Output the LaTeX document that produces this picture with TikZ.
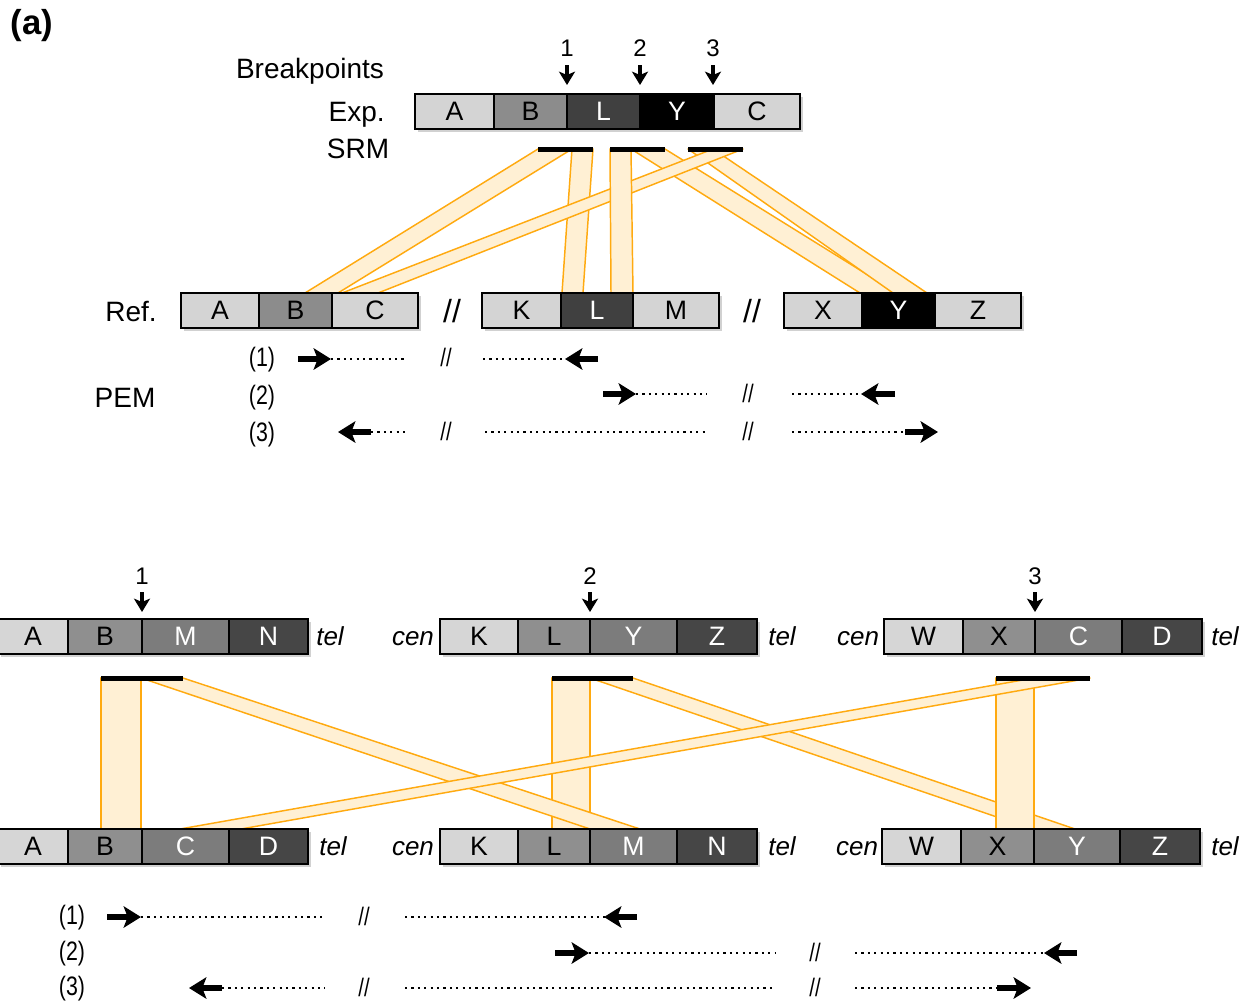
\documentclass[tikz,border=0pt]{standalone}
\usepackage{fontspec}
\setmainfont{Liberation Sans}
\usepackage{graphicx}
\usetikzlibrary{arrows.meta}
\definecolor{tL}{HTML}{D4D4D4}
\definecolor{tM}{HTML}{8C8C8C}
\definecolor{tD}{HTML}{404040}
\definecolor{bL}{HTML}{D6D6D6}
\definecolor{bM}{HTML}{8F8F8F}
\definecolor{bN}{HTML}{7C7C7C}
\definecolor{bD}{HTML}{464646}
\definecolor{bandfill}{HTML}{FFF0D4}
\definecolor{bandline}{HTML}{FFAA10}
\tikzset{
  segbox/.style={draw=black, line width=1.1pt, minimum height=26.25pt, inner sep=0pt, font=\fontsize{20}{20}\selectfont},
  shade/.style={fill=black, opacity=0.18},
  band/.style={fill=bandfill, draw=bandline, line width=1.1pt, line join=round},
  srm/.style={line width=3.75pt},
  bparr/.style={line width=2.6pt, -{Stealth[length=10pt,width=12pt,inset=2.5pt]}},
  pemarr/.style={line width=3.8pt, -{Stealth[length=13pt,width=16pt,inset=3pt]}},
  dots/.style={line width=1.6pt, dash pattern=on 1.6pt off 3.2pt},
  lab/.style={font=\fontsize{21}{21}\selectfont, inner sep=0pt, anchor=base},
  num/.style={font=\fontsize{18}{18}\selectfont, inner sep=0pt, anchor=base},
  ital/.style={font=\fontsize{19.5}{19.5}\selectfont\itshape, inner sep=0pt, anchor=base},
  pemlab/.style={font=\fontsize{20}{20}\selectfont, inner sep=0pt, anchor=base},
  slash/.style={font=\fontsize{19}{19}\selectfont, inner sep=0pt, anchor=base},
}
\newcommand\seg[7]{%
  \pgfmathsetmacro\segw{(#3-#2)*0.75}%
  \pgfmathsetmacro\segc{(#2+#3)/2}%
  \node[segbox, fill=#5, text=#6, minimum width=\segw pt] (#1) at (\segc,#4) {#7};}
\newcommand\shadebar[3]{\fill[shade] (#1+3,#3-17.5+3) rectangle (#2+3,#3+17.5+3);}
\newcommand\bandpoly[6]{\draw[band] (#1,#3) -- (#2,#3) -- (#5,#6) -- (#4,#6) -- cycle;}
\newcommand\nar[1]{\scalebox{0.8}[1]{#1}}
\begin{document}
\begin{tikzpicture}[x=0.75pt,y=-0.75pt]
\useasboundingbox (0,0) rectangle (1254,1004);

% ---------- panel label ----------
\node[font=\fontsize{26}{26}\selectfont\bfseries, inner sep=0pt, anchor=base] (panel) at (32,34) {(a)};

% ---------- top: bands ----------
\bandpoly{631}{665}{149}{860}{897}{293}
\bandpoly{688}{713}{149}{893}{927}{293}
\bandpoly{538}{572}{149}{305}{338}{293}
\bandpoly{572}{593}{149}{562}{583}{293}
\bandpoly{713}{743}{149}{342}{378}{293}
\bandpoly{610}{631}{149}{611}{633}{293}

% ---------- top: labels ----------
\node[lab] (bp) at (310,78) {Breakpoints};
\node[lab, anchor=base east] (exp) at (385,121) {Exp.};
\node[lab] (srmlab) at (358,158) {SRM};
\node[lab] (ref) at (131,321) {Ref.};
\node[lab] (pem) at (125,407) {PEM};

% ---------- top: Exp. bar ----------
\shadebar{415}{800}{111.5}
\seg{eA}{415}{494}{111.5}{tL}{black}{A}
\seg{eB}{494}{567}{111.5}{tM}{black}{B}
\seg{eL}{567}{640}{111.5}{tD}{white}{L}
\seg{eY}{640}{714}{111.5}{black}{white}{Y}
\seg{eC}{714}{800}{111.5}{tL}{black}{C}

% breakpoints
\node[num] (n1) at (567,56) {1};
\node[num] (n2) at (640,56) {2};
\node[num] (n3) at (713,56) {3};
\coordinate (f1) at (567,65); \coordinate (f2) at (640,65); \coordinate (f3) at (713,65);
\coordinate (t1) at (567,85); \coordinate (t2) at (640,85); \coordinate (t3) at (713,85);
\draw[bparr] (f1) -- (t1);
\draw[bparr] (f2) -- (t2);
\draw[bparr] (f3) -- (t3);

% SRM bars
\coordinate (s1a) at (538,149); \coordinate (s1b) at (593,149);
\coordinate (s2a) at (610,149); \coordinate (s2b) at (665,149);
\coordinate (s3a) at (688,149); \coordinate (s3b) at (743,149);
\draw[srm] (s1a) -- (s1b);
\draw[srm] (s2a) -- (s2b);
\draw[srm] (s3a) -- (s3b);

% ---------- top: Ref bars ----------
\shadebar{181}{418}{310.5}
\shadebar{482}{719}{310.5}
\shadebar{784}{1021}{310.5}
\seg{rA}{181}{259}{310.5}{tL}{black}{A}
\seg{rB}{259}{332}{310.5}{tM}{black}{B}
\seg{rC}{332}{418}{310.5}{tL}{black}{C}
\seg{rK}{482}{561}{310.5}{tL}{black}{K}
\seg{rL}{561}{633}{310.5}{tD}{white}{L}
\seg{rM}{633}{719}{310.5}{tL}{black}{M}
\seg{rX}{784}{862}{310.5}{tL}{black}{X}
\seg{rY}{862}{935}{310.5}{black}{white}{Y}
\seg{rZ}{935}{1021}{310.5}{tL}{black}{Z}
\node[font=\fontsize{24}{24}\selectfont, inner sep=0pt, anchor=base] (brk1) at (452,322) {//};
\node[font=\fontsize{24}{24}\selectfont, inner sep=0pt, anchor=base] (brk2) at (752,322) {//};

% ---------- top: PEM ----------
\node[pemlab] (p1) at (262,366) {\nar{(1)}};
\node[pemlab] (p2) at (262,404) {\nar{(2)}};
\node[pemlab] (p3) at (262,441) {\nar{(3)}};
% row 1
\draw[pemarr] (298,359) -- (331,359);
\draw[dots] (331,359) -- (405,359);
\node[slash] (q11) at (446,366) {\nar{//}};
\draw[dots] (483,359) -- (566,359);
\draw[pemarr] (598,359) -- (565,359);
% row 2
\draw[pemarr] (603,394) -- (636,394);
\draw[dots] (636,394) -- (707,394);
\node[slash] (q21) at (748,402) {\nar{//}};
\draw[dots] (792,394) -- (862,394);
\draw[pemarr] (895,394) -- (861,394);
% row 3
\draw[pemarr] (371,432) -- (338,432);
\draw[dots] (371,432) -- (405,432);
\node[slash] (q31) at (446,440) {\nar{//}};
\draw[dots] (485,432) -- (707,432);
\node[slash] (q32) at (748,440) {\nar{//}};
\draw[dots] (792,432) -- (906,432);
\draw[pemarr] (905,432) -- (938,432);

% ---------- bottom: bands ----------
\bandpoly{101}{141}{678}{101}{141}{829}
\bandpoly{552}{590}{678}{552}{590}{829}
\bandpoly{590}{633}{678}{1032}{1075}{829}
\bandpoly{996}{1034}{678}{996}{1034}{829}
\bandpoly{141}{183}{678}{590}{640}{829}
\bandpoly{1034}{1090}{678}{180}{241}{829}

% SRM bars bottom
\coordinate (u1a) at (101,678); \coordinate (u1b) at (183,678);
\coordinate (u2a) at (552,678); \coordinate (u2b) at (633,678);
\coordinate (u3a) at (996,678); \coordinate (u3b) at (1090,678);
\draw[srm] (u1a) -- (u1b);
\draw[srm] (u2a) -- (u2b);
\draw[srm] (u3a) -- (u3b);

% ---------- bottom: upper row ----------
\shadebar{-2}{308}{636.5}
\shadebar{440}{757}{636.5}
\shadebar{884}{1202}{636.5}
\seg{aA}{-2}{68}{636.5}{bL}{black}{A}
\seg{aB}{68}{142}{636.5}{bM}{black}{B}
\seg{aM}{142}{229}{636.5}{bN}{white}{M}
\seg{aN}{229}{308}{636.5}{bD}{white}{N}
\seg{aK}{440}{518}{636.5}{bL}{black}{K}
\seg{aL}{518}{590}{636.5}{bM}{black}{L}
\seg{aY}{590}{677}{636.5}{bN}{white}{Y}
\seg{aZ}{677}{757}{636.5}{bD}{white}{Z}
\seg{aW}{884}{963}{636.5}{bL}{black}{W}
\seg{aX}{963}{1035}{636.5}{bM}{black}{X}
\seg{aC}{1035}{1122}{636.5}{bN}{white}{C}
\seg{aD}{1122}{1202}{636.5}{bD}{white}{D}
\node[ital] (at1) at (330,645) {tel};
\node[ital] (ac2) at (413,645) {cen};
\node[ital] (at2) at (782,645) {tel};
\node[ital] (ac3) at (858,645) {cen};
\node[ital] (at3) at (1225,645) {tel};

\node[num] (m1) at (142,584) {1};
\node[num] (m2) at (590,584) {2};
\node[num] (m3) at (1035,584) {3};
\coordinate (g1) at (142,592); \coordinate (g2) at (590,592); \coordinate (g3) at (1035,592);
\coordinate (v1) at (142,612); \coordinate (v2) at (590,612); \coordinate (v3) at (1035,612);
\draw[bparr] (g1) -- (v1);
\draw[bparr] (g2) -- (v2);
\draw[bparr] (g3) -- (v3);

% ---------- bottom: lower row ----------
\shadebar{-2}{308}{846.5}
\shadebar{440}{757}{846.5}
\shadebar{882}{1200}{846.5}
\seg{bA}{-2}{68}{846.5}{bL}{black}{A}
\seg{bB}{68}{142}{846.5}{bM}{black}{B}
\seg{bC}{142}{229}{846.5}{bN}{white}{C}
\seg{bD}{229}{308}{846.5}{bD}{white}{D}
\seg{bK}{440}{518}{846.5}{bL}{black}{K}
\seg{bL}{518}{590}{846.5}{bM}{black}{L}
\seg{bM}{590}{677}{846.5}{bN}{white}{M}
\seg{bN}{677}{757}{846.5}{bD}{white}{N}
\seg{bW}{882}{961}{846.5}{bL}{black}{W}
\seg{bX}{961}{1034}{846.5}{bM}{black}{X}
\seg{bY}{1034}{1120}{846.5}{bN}{white}{Y}
\seg{bZ}{1120}{1200}{846.5}{bD}{white}{Z}
\node[ital] (bt1) at (333,855) {tel};
\node[ital] (bc2) at (413,855) {cen};
\node[ital] (bt2) at (782,855) {tel};
\node[ital] (bc3) at (857,855) {cen};
\node[ital] (bt3) at (1225,855) {tel};

% ---------- bottom: PEM ----------
\node[pemlab] (r1) at (72,924) {\nar{(1)}};
\node[pemlab] (r2) at (72,960) {\nar{(2)}};
\node[pemlab] (r3) at (72,995) {\nar{(3)}};
% row 1
\draw[pemarr] (107,917) -- (141,917);
\draw[dots] (141,917) -- (325,917);
\node[slash] (w11) at (364,925) {\nar{//}};
\draw[dots] (405,917) -- (605,917);
\draw[pemarr] (637,917) -- (604,917);
% row 2
\draw[pemarr] (555,953) -- (589,953);
\draw[dots] (589,953) -- (775,953);
\node[slash] (w21) at (815,961) {\nar{//}};
\draw[dots] (855,953) -- (1045,953);
\draw[pemarr] (1077,953) -- (1044,953);
% row 3
\draw[pemarr] (222,988) -- (189,988);
\draw[dots] (222,988) -- (325,988);
\node[slash] (w31) at (364,996) {\nar{//}};
\draw[dots] (405,988) -- (775,988);
\node[slash] (w32) at (815,996) {\nar{//}};
\draw[dots] (855,988) -- (1000,988);
\draw[pemarr] (997,988) -- (1031,988);
\end{tikzpicture}
\end{document}
